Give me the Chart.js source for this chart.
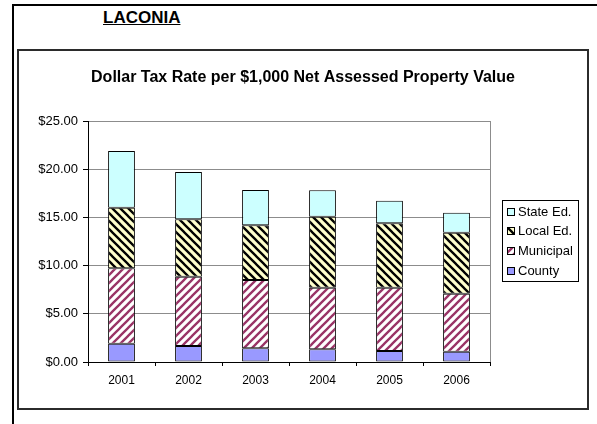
<!DOCTYPE html>
<html>
<head>
<meta charset="utf-8">
<script src="https://cdn.jsdelivr.net/npm/chart.js@4/dist/chart.umd.min.js"></script>
<style>
    html, body { margin: 0; padding: 0; background: #fff; }
    body { width: 597px; height: 424px; position: relative; overflow: hidden; font-family: 'Liberation Sans', Arial, sans-serif; }
    .page-frame { position: absolute; left: 12px; top: 4px; width: 600px; height: 440px; border-top: 2px solid #000; border-left: 2px solid #000; }
    .town { position: absolute; left: 103px; top: 8px; font: bold 17px 'Liberation Sans', Arial, sans-serif; line-height: 20px; text-decoration: underline; color: #000; }
    .chart-box { position: absolute; left: 17px; top: 49px; width: 572px; height: 361px; box-sizing: border-box; border: 2px solid #2b2b2b; }
    #tax-chart { position: absolute; left: 0; top: 0; }
</style>
</head>
<body>
<div class="page-frame"></div>
<div class="town">LACONIA</div>
<div class="chart-box"></div>
<canvas id="tax-chart" width="597" height="424"></canvas>
<script>
const years = ['2001', '2002', '2003', '2004', '2005', '2006'];
const county = [1.90, 1.66, 1.42, 1.32, 1.14, 1.07];
const municipal = [7.82, 7.19, 7.08, 6.39, 6.57, 6.02];
const localEd = [6.28, 5.95, 5.68, 7.36, 6.68, 6.32];
const stateEd = [5.90, 4.90, 3.66, 2.74, 2.34, 2.08];
const yTicks = [0, 5, 10, 15, 20, 25];

const chartTitle = 'Dollar Tax Rate per $1,000 Net Assessed Property Value';
const FONT = "'Liberation Sans', Arial, sans-serif";

function stripes(bg, fg, dir) {
    const c = document.createElement('canvas');
    c.width = 8;
    c.height = 8;
    const g = c.getContext('2d');
    g.fillStyle = bg;
    g.fillRect(0, 0, 8, 8);
    g.strokeStyle = fg;
    g.lineWidth = 2.3;
    g.beginPath();
    if (dir === 'down') {
        g.moveTo(-1, -1); g.lineTo(9, 9);
        g.moveTo(-1, 7); g.lineTo(1, 9);
        g.moveTo(7, -1); g.lineTo(9, 1);
    } else {
        g.moveTo(-1, 9); g.lineTo(9, -1);
        g.moveTo(-1, 1); g.lineTo(1, -1);
        g.moveTo(7, 9); g.lineTo(9, 7);
    }
    g.stroke();
    return g.createPattern(c, 'repeat');
}

const ctx = document.getElementById('tax-chart').getContext('2d');
const localPattern = stripes('#ffffcc', '#000000', 'down');
const municipalPattern = stripes('#ffffff', '#993366', 'up');

// title centred on the framed box, like the spreadsheet chart
const boxTitle = {
    id: 'boxTitle',
    afterDraw(chart) {
        const c = chart.ctx;
        c.save();
        c.fillStyle = '#000';
        c.font = 'bold 16px ' + FONT;
        c.textAlign = 'center';
        c.textBaseline = 'middle';
        c.fillText(chartTitle, 303, 78);
        c.restore();
    }
};

// gray right edge of the plot area
const plotEdge = {
    id: 'plotEdge',
    beforeDatasetsDraw(chart) {
        const a = chart.chartArea;
        const c = chart.ctx;
        c.save();
        c.strokeStyle = '#8c8c8c';
        c.lineWidth = 1;
        c.beginPath();
        c.moveTo(Math.round(a.right) + 0.5, a.top);
        c.lineTo(Math.round(a.right) + 0.5, a.bottom);
        c.stroke();
        c.restore();
    }
};

// boxed legend to the right, top item = top of the stack
const boxLegend = {
    id: 'boxLegend',
    afterDraw(chart) {
        const c = chart.ctx;
        const left = Math.round(chart.chartArea.right) + 12;
        const top = 200;
        const w = 76, h = 81;
        c.save();
        c.strokeStyle = '#000';
        c.lineWidth = 1;
        c.strokeRect(left + 0.5, top + 0.5, w, h);
        c.font = '13px ' + FONT;
        c.textBaseline = 'middle';
        c.textAlign = 'left';
        const sets = chart.data.datasets.slice().reverse();
        sets.forEach((ds, i) => {
            const cy = top + 11.5 + i * 19.8;
            c.fillStyle = ds.backgroundColor;
            c.fillRect(left + 5, Math.round(cy - 4), 8, 8);
            c.strokeRect(left + 5.5, Math.round(cy - 4) + 0.5, 7, 7);
            c.fillStyle = '#000';
            c.fillText(ds.label, left + 16, cy + 0.5);
        });
        c.restore();
    }
};

new Chart(ctx, {
    type: 'bar',
    data: {
        labels: years,
        datasets: [
            { label: 'County', data: county, backgroundColor: '#9999ff' },
            { label: 'Municipal', data: municipal, backgroundColor: municipalPattern },
            { label: 'Local Ed.', data: localEd, backgroundColor: localPattern },
            { label: 'State Ed.', data: stateEd, backgroundColor: '#ccffff' }
        ]
    },
    options: {
        responsive: false,
        animation: false,
        devicePixelRatio: 1,
        layout: { padding: { left: 19, right: 107, top: 121, bottom: 32 } },
        datasets: {
            bar: {
                borderColor: '#000',
                borderWidth: 1,
                borderSkipped: false,
                categoryPercentage: 1,
                barPercentage: 0.4
            }
        },
        plugins: {
            legend: { display: false },
            title: { display: false },
            tooltip: { enabled: false }
        },
        scales: {
            x: {
                stacked: true,
                afterFit: (scale) => { scale.height = 30; },
                border: { color: '#000', width: 1 },
                grid: { drawOnChartArea: false, tickLength: 4, tickColor: '#000', color: '#000' },
                ticks: { color: '#000', font: { family: FONT, size: 12 }, padding: 7 }
            },
            y: {
                stacked: true,
                min: 0,
                max: 25,
                afterFit: (scale) => { scale.width = 69; },
                afterBuildTicks: (scale) => { scale.ticks = yTicks.map((v) => ({ value: v })); },
                border: { color: '#000', width: 1 },
                grid: { color: '#8c8c8c', tickLength: 5, tickColor: '#000' },
                ticks: {
                    color: '#000',
                    font: { family: FONT, size: 13 },
                    padding: 5,
                    callback: (v) => '$' + Number(v).toFixed(2)
                }
            }
        }
    },
    plugins: [plotEdge, boxTitle, boxLegend]
});
</script>
</body>
</html>
